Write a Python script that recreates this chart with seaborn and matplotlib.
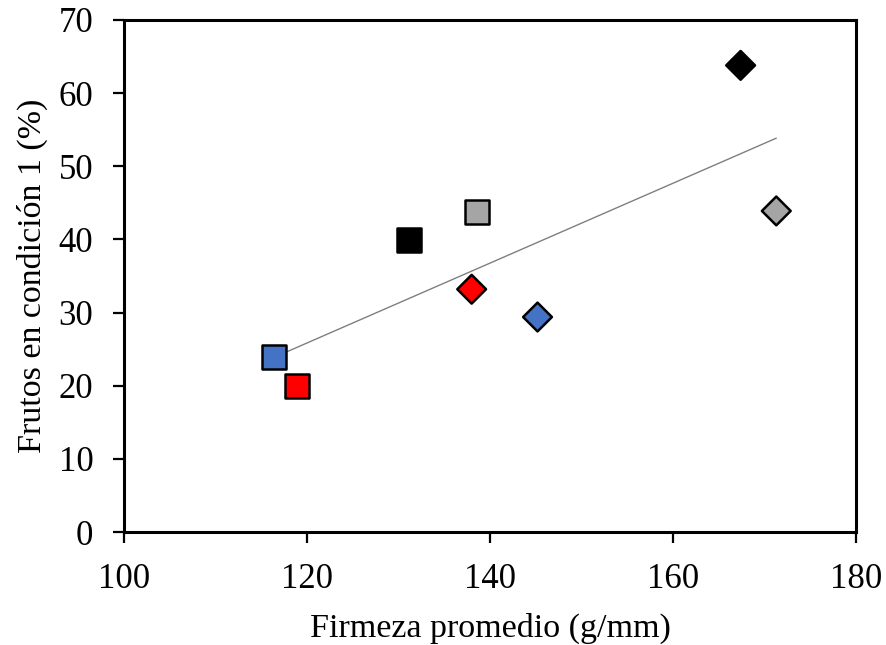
import numpy as np
import pandas as pd
import matplotlib
matplotlib.use("Agg")
import matplotlib.pyplot as plt
import seaborn as sns

# Data
treatments = ["A_sq", "B_sq", "C_sq", "D_sq", "A_di", "B_di", "C_di", "D_di"]
firmeza = [116.4, 118.9, 131.1, 138.6, 145.2, 138.0, 167.4, 171.3]
frutos = [23.9, 20.0, 39.9, 43.8, 29.4, 33.2, 63.8, 43.9]
colors = ["#4472C4", "#FF0000", "#000000", "#A5A5A5",
          "#4472C4", "#FF0000", "#000000", "#A5A5A5"]
shapes = ["s", "s", "s", "s", "D", "D", "D", "D"]
xticks = [100, 120, 140, 160, 180]
yticks = [0, 10, 20, 30, 40, 50, 60, 70]

df = pd.DataFrame({"trat": treatments, "x": firmeza, "y": frutos, "shape": shapes})

sns.set_style("ticks")
plt.rcParams["font.family"] = ["Liberation Serif", "DejaVu Serif"]
plt.rcParams["text.color"] = "black"
plt.rcParams["axes.labelcolor"] = "black"

fig = plt.figure(figsize=(8.86, 6.45), dpi=100)
ax = fig.add_axes([0.140, 0.175, 0.826, 0.794])

# trend line (least squares)
slope, intercept = np.polyfit(firmeza, frutos, 1)
xl = np.array([min(firmeza), max(firmeza)])
ax.plot(xl, slope * xl + intercept, color="#7F7F7F", lw=1.0, zorder=1)

sq = df[df["shape"] == "s"]
di = df[df["shape"] == "D"]
pal = dict(zip(treatments, colors))
sns.scatterplot(data=sq, x="x", y="y", hue="trat", palette=pal, marker="s",
                s=300, edgecolor="black", linewidth=1.8, legend=False, ax=ax, zorder=3)
sns.scatterplot(data=di, x="x", y="y", hue="trat", palette=pal, marker="D",
                s=215, edgecolor="black", linewidth=1.8, legend=False, ax=ax, zorder=3)

ax.set_xlim(100, 180)
ax.set_ylim(0, 70)
ax.set_xticks(xticks)
ax.set_yticks(yticks)
ax.tick_params(axis="both", direction="out", length=8, width=1.6, labelsize=25,
               colors="black")
ax.tick_params(axis="x", pad=14)
ax.tick_params(axis="y", pad=14)
for sp in ax.spines.values():
    sp.set_visible(True)
    sp.set_color("black")
    sp.set_linewidth(2.2)

ax.set_xlabel("Firmeza promedio (g/mm)", fontsize=24.5, labelpad=12, color="black")
ax.set_ylabel("Frutos en condición 1 (%)", fontsize=24.5, labelpad=8, color="black")

fig.savefig("out.png", dpi=100)
